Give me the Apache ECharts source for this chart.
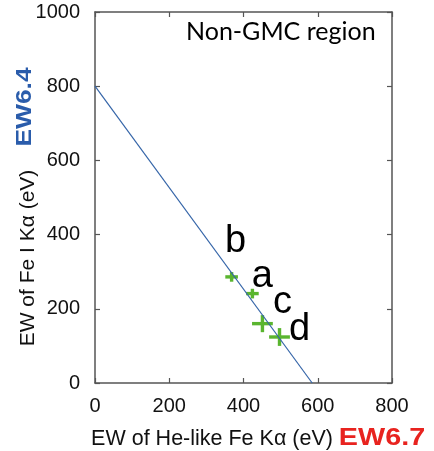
<!DOCTYPE html>
<html>
<head>
<meta charset="utf-8">
<script src="https://cdn.jsdelivr.net/npm/echarts@6/dist/echarts.min.js"></script>
<style>
html,body{margin:0;padding:0;background:#fff;}
#c{width:434px;height:451px;}
</style>
</head>
<body>
<div id="c"></div>
<script>
// Data
const pointNames = ['b', 'a', 'c', 'd'];
const ew67 = [368, 424, 451, 497];
const ew64 = [286, 241, 160, 124];
const ew67Err = [17, 17, 28, 28];
const ew64Err = [13, 13, 23, 24];
const lineX = [0, 585];
const lineY = [800, 0];
const xTicks = [0, 200, 400, 600, 800];
const yTicks = [0, 200, 400, 600, 800, 1000];

const labelOffsets = {b: [4, -35], a: [10, -17], c: [20, -21], d: [20, -7]};

const chart = echarts.init(document.getElementById('c'), null, {renderer: 'canvas'});

const crossData = pointNames.map((n, i) => ({
  name: n,
  value: [ew67[i], ew64[i], ew67Err[i], ew64Err[i]]
}));
const labelData = pointNames.map((n, i) => ({
  name: n,
  value: [ew67[i], ew64[i]],
  label: {offset: labelOffsets[n]}
}));

function axisCommon() {
  return {
    type: 'value',
    splitLine: {show: false},
    axisLine: {show: true, onZero: false, lineStyle: {color: '#555', width: 1.5}},
    axisTick: {show: true, inside: true, length: 5, lineStyle: {color: '#555', width: 1.2}}
  };
}

const option = {
  animation: false,
  backgroundColor: '#fff',
  grid: {left: 95, right: 42, top: 12, bottom: 68, containLabel: false},
  xAxis: [
    Object.assign(axisCommon(), {
      position: 'bottom', min: xTicks[0], max: xTicks[xTicks.length - 1], interval: 200,
      axisLabel: {show: true, fontSize: 20, color: '#111', margin: 13, fontFamily: 'Liberation Sans',
                  formatter: v => String(v)}
    }),
    Object.assign(axisCommon(), {
      position: 'top', min: xTicks[0], max: xTicks[xTicks.length - 1], interval: 200,
      axisLabel: {show: false}
    })
  ],
  yAxis: [
    Object.assign(axisCommon(), {
      position: 'left', min: yTicks[0], max: yTicks[yTicks.length - 1], interval: 200,
      axisLabel: {show: true, fontSize: 20, color: '#111', margin: 15, fontFamily: 'Liberation Sans',
                  formatter: v => String(v)}
    }),
    Object.assign(axisCommon(), {
      position: 'right', min: yTicks[0], max: yTicks[yTicks.length - 1], interval: 200,
      axisLabel: {show: false}
    })
  ],
  series: [
    {
      type: 'line',
      data: lineX.map((x, i) => [x, lineY[i]]),
      symbol: 'none',
      lineStyle: {color: '#3565a8', width: 1.2},
      z: 3
    },
    {
      type: 'custom',
      data: crossData,
      z: 2,
      renderItem: function (params, api) {
        const x = api.value(0), y = api.value(1), ex = api.value(2), ey = api.value(3);
        const l = api.coord([x - ex, y]);
        const r = api.coord([x + ex, y]);
        const t = api.coord([x, y + ey]);
        const b = api.coord([x, y - ey]);
        const st = {stroke: '#5ab52f', lineWidth: 3.4};
        return {
          type: 'group',
          children: [
            {type: 'line', shape: {x1: l[0], y1: l[1], x2: r[0], y2: r[1]}, style: st},
            {type: 'line', shape: {x1: t[0], y1: t[1], x2: b[0], y2: b[1]}, style: st}
          ]
        };
      },
      encode: {x: 0, y: 1}
    },
    {
      type: 'scatter',
      data: labelData,
      symbol: 'circle',
      symbolSize: 2,
      itemStyle: {color: 'rgba(0,0,0,0)', opacity: 1},
      z: 4,
      label: {
        show: true,
        position: 'inside',
        formatter: p => p.name,
        fontSize: 38,
        color: '#000',
        textBorderWidth: 0,
        fontFamily: 'Liberation Sans'
      }
    }
  ],
  graphic: [
    {
      type: 'text', left: 186, top: 19,
      style: {text: 'Non-GMC region', fontSize: 25, fontFamily: 'Lato', fill: '#000'}
    },
    {
      type: 'text', x: 28, y: 258, rotation: Math.PI / 2,
      style: {text: 'EW of Fe I K\u03b1 (eV)', fontSize: 21, fontFamily: 'Liberation Sans', fill: '#111',
              align: 'center', verticalAlign: 'middle'}
    },
    {
      type: 'text', x: 212, y: 439,
      style: {text: 'EW of He-like Fe K\u03b1 (eV)', fontSize: 21.5, fontFamily: 'Liberation Sans', fill: '#111',
              align: 'center', verticalAlign: 'middle'}
    },
    {
      type: 'text', x: 25, y: 107, rotation: Math.PI / 2, scaleX: 1.2,
      style: {text: 'EW6.4', fontSize: 22, fontWeight: 'bold', fontFamily: 'Liberation Sans', fill: '#2a5cab',
              align: 'center', verticalAlign: 'middle'}
    },
    {
      type: 'text', x: 382, y: 439, scaleX: 1.25,
      style: {text: 'EW6.7', fontSize: 23, fontWeight: 'bold', fontFamily: 'Liberation Sans', fill: '#e8231f',
              align: 'center', verticalAlign: 'middle'}
    }
  ]
};

chart.setOption(option);
</script>
</body>
</html>
